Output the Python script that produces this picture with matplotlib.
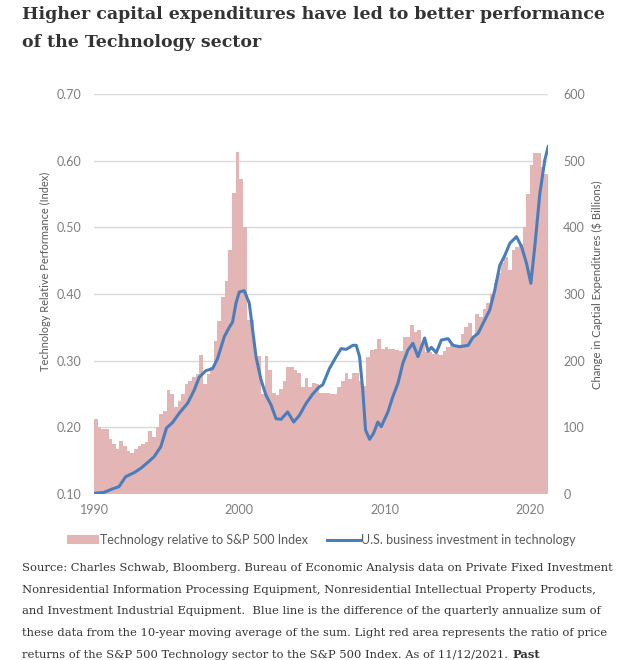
import numpy as np
import matplotlib.pyplot as plt
from matplotlib.patches import Patch
from matplotlib.lines import Line2D

# Technology relative to S&P 500 (quarterly bars, left axis), 1990 Q1 onward
tech_rel = [
    0.213, 0.200, 0.197, 0.197,   # 1990
    0.182, 0.175, 0.167, 0.180,   # 1991
    0.172, 0.165, 0.161, 0.167,   # 1992
    0.172, 0.175, 0.178, 0.195,   # 1993
    0.185, 0.200, 0.220, 0.225,   # 1994
    0.256, 0.250, 0.230, 0.240,   # 1995
    0.250, 0.265, 0.270, 0.275,   # 1996
    0.280, 0.309, 0.265, 0.280,   # 1997
    0.290, 0.330, 0.360, 0.396,   # 1998
    0.420, 0.466, 0.552, 0.613,   # 1999
    0.573, 0.500, 0.361, 0.361,   # 2000
    0.307, 0.307, 0.250, 0.307,   # 2001
    0.286, 0.251, 0.249, 0.258,   # 2002
    0.270, 0.291, 0.290, 0.286,   # 2003
    0.281, 0.261, 0.274, 0.261,   # 2004
    0.266, 0.265, 0.252, 0.252,   # 2005
    0.252, 0.250, 0.250, 0.260,   # 2006
    0.270, 0.281, 0.272, 0.281,   # 2007
    0.281, 0.270, 0.262, 0.306,   # 2008
    0.316, 0.318, 0.333, 0.318,   # 2009
    0.320, 0.318, 0.318, 0.316,   # 2010
    0.315, 0.336, 0.336, 0.353,   # 2011
    0.343, 0.346, 0.326, 0.313,   # 2012
    0.313, 0.310, 0.310, 0.308,   # 2013
    0.315, 0.320, 0.325, 0.322,   # 2014
    0.322, 0.340, 0.350, 0.357,   # 2015
    0.335, 0.370, 0.365, 0.378,   # 2016
    0.386, 0.400, 0.417, 0.432,   # 2017
    0.447, 0.455, 0.436, 0.466,   # 2018
    0.470, 0.475, 0.500, 0.550,   # 2019
    0.594, 0.612, 0.611, 0.590,   # 2020
    0.580,                        # 2021
]
first_year = 1990

# U.S. business investment in technology ($bn, right axis)
capex_years = [
    1990.0, 1990.7, 1991.26, 1991.72, 1992.18, 1992.76, 1993.22, 1993.68,
    1994.14, 1994.6, 1994.99, 1995.4, 1995.86, 1996.44, 1996.9, 1997.24,
    1997.7, 1998.16, 1998.5, 1998.97, 1999.31, 1999.54, 1999.77, 2000.0,
    2000.34, 2000.69, 2000.92, 2001.15, 2001.5, 2001.84, 2002.18, 2002.53,
    2002.87, 2003.33, 2003.75, 2004.14, 2004.6, 2005.06, 2005.47, 2005.75,
    2006.2, 2006.67, 2007.01, 2007.36, 2007.82, 2008.05, 2008.28, 2008.5,
    2008.69, 2008.97, 2009.24, 2009.54, 2009.77, 2010.23, 2010.57, 2010.92,
    2011.26, 2011.61, 2011.95, 2012.3, 2012.76, 2013.0, 2013.22, 2013.56,
    2013.91, 2014.37, 2014.71, 2015.17, 2015.75, 2016.09, 2016.44, 2016.78,
    2017.24, 2017.59, 2017.93, 2018.28, 2018.62, 2019.08, 2019.43, 2019.77,
    2020.07, 2020.34, 2020.69, 2021.03, 2021.26,
]
capex = [
    1, 2.5, 7.5, 11, 26, 32, 38.5, 47,
    56, 71, 99, 107, 121, 136, 156, 175,
    185, 188, 203, 236, 250, 258, 286, 303,
    305, 286, 246, 206, 171, 148, 134, 113,
    112, 123, 108, 118, 136, 150, 160, 164,
    188, 206, 218, 217, 223, 223, 206, 156,
    96, 82, 91, 108, 101, 123, 146, 166,
    196, 216, 226, 206, 234, 214, 220, 212,
    231, 233, 223, 221, 223, 235, 241, 256,
    276, 306, 343, 358, 376, 386, 371, 346,
    316, 371, 451, 501, 521,
]

left_ticks = [0.10, 0.20, 0.30, 0.40, 0.50, 0.60, 0.70]
right_ticks = [0, 100, 200, 300, 400, 500, 600]
year_ticks = [1990, 2000, 2010, 2020]

bar_color = "#e3b5b4"
line_color = "#4a7ebb"
tick_color = "#7f7f7f"
label_color = "#595959"
text_color = "#333333"
sans = ["Lato", "DejaVu Sans"]
serif = ["DejaVu Serif"]

W, H = 630, 660
fig = plt.figure(figsize=(W / 100, H / 100), dpi=100)
ax = fig.add_axes([94 / W, 1 - 494 / H, (548 - 94) / W, 400 / H])

quarters = first_year + 0.25 * np.arange(len(tech_rel))
edges = np.append(quarters, quarters[-1] + 0.25)
vals = np.append(tech_rel, tech_rel[-1])
ax.fill_between(edges, vals, 0.10, step="post", color=bar_color, linewidth=0)

ax.set_xlim(first_year, edges[-1])
ax.set_ylim(0.10, 0.70)
ax.set_yticks(left_ticks)
ax.set_yticklabels([f"{t:.2f}" for t in left_ticks])
ax.set_xticks(year_ticks)
ax.set_xticklabels([str(y) for y in year_ticks])
ax.grid(axis="y", color="#d9d9d9", linewidth=1.0)
ax.set_axisbelow(True)
for s in ax.spines.values():
    s.set_visible(False)
ax.tick_params(axis="y", length=0, pad=9, labelcolor=tick_color, labelsize=9)
ax.tick_params(axis="x", length=0, pad=7, labelcolor=tick_color, labelsize=9)
for lab in ax.get_xticklabels() + ax.get_yticklabels():
    lab.set_family(sans)

ax2 = ax.twinx()
ax2.plot(capex_years, capex, color=line_color, linewidth=2.2, solid_joinstyle="round")
ax2.set_ylim(0, 600)
ax2.set_yticks(right_ticks)
ax2.set_yticklabels([str(t) for t in right_ticks])
for s in ax2.spines.values():
    s.set_visible(False)
ax2.tick_params(axis="y", length=0, pad=11, labelcolor=tick_color, labelsize=9)
for lab in ax2.get_yticklabels():
    lab.set_family(sans)

fig.text(45 / W, 1 - 271 / H, "Technology Relative Performance (Index)", rotation=90,
         ha="center", va="center", color=label_color, fontsize=7.9, family=sans)
fig.text(597 / W, 1 - 285 / H, "Change in Captial Expenditures ($ Billions)", rotation=90,
         ha="center", va="center", color=label_color, fontsize=8.1, family=sans)

handles = [Patch(facecolor=bar_color, edgecolor="none"),
           Line2D([0], [0], color=line_color, linewidth=2.2)]
leg = fig.legend(handles, ["Technology relative to S&P 500 Index",
                           "U.S. business investment in technology"],
                 loc="center", bbox_to_anchor=(321 / W, 1 - 540 / H), ncol=2,
                 frameon=False, handlelength=2.6, handletextpad=0.1,
                 columnspacing=1.5, prop={"family": sans, "size": 9})
for t in leg.get_texts():
    t.set_color(label_color)

fig.text(22 / W, 1 - 19 / H, "Higher capital expenditures have led to better performance",
         ha="left", va="baseline", color=text_color, fontsize=12.5,
         fontweight="bold", family=serif)
fig.text(22 / W, 1 - 47 / H, "of the Technology sector",
         ha="left", va="baseline", color=text_color, fontsize=12.5,
         fontweight="bold", family=serif)

notes = [
    "Source: Charles Schwab, Bloomberg. Bureau of Economic Analysis data on Private Fixed Investment",
    "Nonresidential Information Processing Equipment, Nonresidential Intellectual Property Products,",
    "and Investment Industrial Equipment.  Blue line is the difference of the quarterly annualize sum of",
    "these data from the 10-year moving average of the sum. Light red area represents the ratio of price",
    "returns of the S&P 500 Technology sector to the S&P 500 Index. As of 11/12/2021.",
]
note_size = 8.25
note_texts = []
for k, line in enumerate(notes):
    note_texts.append(fig.text(22 / W, 1 - (571 + 21.7 * k) / H, line, ha="left",
                               va="baseline", color=text_color, fontsize=note_size,
                               family=serif))

fig.canvas.draw()
bb = note_texts[-1].get_window_extent()
fig.text((bb.x1 + 4) / W, 1 - (571 + 21.7 * 4) / H, "Past", ha="left", va="baseline",
         color=text_color, fontsize=note_size, fontweight="bold", family=serif)

fig.savefig("out.png", dpi=100)
